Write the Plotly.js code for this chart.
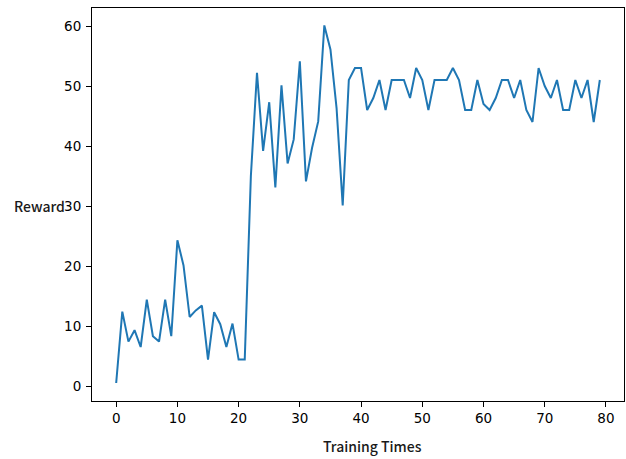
<!DOCTYPE html>
<html>
<head>
<meta charset="utf-8">
<script src="https://cdn.plot.ly/plotly-3.0.1.min.js"></script>
<style>html,body{margin:0;padding:0;background:#fff;}#chart{width:626px;height:459px;}</style>
</head>
<body>
<div id="chart"></div>
<script>
const trainingTimes = Array.from({length: 80}, (_, i) => i);
const rewards = [
  0.5, 12.4, 7.4, 9.3, 6.5, 14.4, 8.3, 7.4, 14.4, 8.3,
  24.3, 20.1, 11.5, 12.6, 13.4, 4.4, 12.3, 10.3, 6.5, 10.4,
  4.4, 4.4, 35, 52.2, 39.2, 47.3, 33.1, 50.1, 37.1, 41.1,
  54.1, 34.1, 39.7, 44.1, 60.1, 56.1, 46.3, 30.1, 51, 53,
  53, 46, 48, 51, 46, 51, 51, 51, 48, 53,
  51, 46, 51, 51, 51, 53, 51, 46, 46, 51,
  47, 46, 48, 51, 51, 48, 51, 46, 44, 53,
  50, 48, 51, 46, 46, 51, 48, 51, 44, 51
];
const xTicks = [0, 10, 20, 30, 40, 50, 60, 70, 80];
const yTicks = [0, 10, 20, 30, 40, 50, 60];
const xTitle = 'Training Times';
const yTitle = 'Reward';

const tickFont = {family: 'DejaVu Sans', size: 13.5, color: '#000'};
const axisCommon = {
  showgrid: false, zeroline: false, showline: true, mirror: true,
  linecolor: '#000', linewidth: 1, ticks: 'outside', ticklen: 5,
  tickcolor: '#000', tickwidth: 1, tickfont: tickFont
};

Plotly.newPlot('chart', [{
  x: trainingTimes, y: rewards, type: 'scatter', mode: 'lines',
  line: {color: '#1f77b4', width: 2}
}], {
  width: 626, height: 459,
  margin: {l: 92, r: 2, t: 8, b: 58},
  paper_bgcolor: '#fff', plot_bgcolor: '#fff',
  showlegend: false,
  xaxis: Object.assign({}, axisCommon, {range: [-3.95, 82.95], tickvals: xTicks, ticktext: xTicks.map(String)}),
  yaxis: Object.assign({}, axisCommon, {range: [-2.5, 63], tickvals: yTicks, ticktext: yTicks.map(String), ticklabelstandoff: 2}),
  annotations: [
    {text: xTitle, xref: 'paper', yref: 'paper', x: 0.5, y: 0, xshift: 14, yshift: -45, showarrow: false,
     xanchor: 'center', yanchor: 'middle', font: {family: 'Noto Sans CJK SC', size: 14, weight: 500, color: '#1a1a1a'}},
    {text: yTitle, xref: 'paper', yref: 'y', x: 0, y: 30, xshift: -53, showarrow: false,
     xanchor: 'center', yanchor: 'middle', font: {family: 'Noto Sans CJK SC', size: 14, weight: 500, color: '#1a1a1a'}}
  ]
}, {displayModeBar: false, staticPlot: true});
</script>
</body>
</html>
